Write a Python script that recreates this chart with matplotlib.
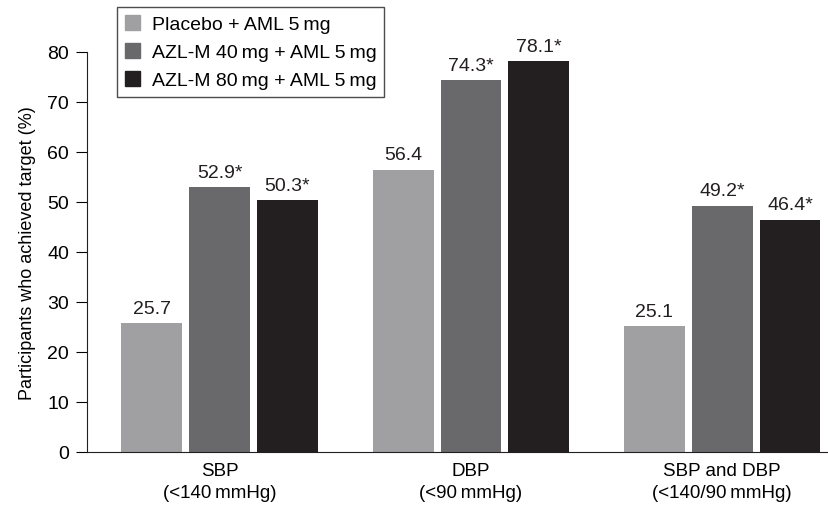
import numpy as np
import matplotlib.pyplot as plt
from matplotlib.patches import Patch

plt.rcParams['font.family'] = ['Liberation Sans', 'DejaVu Sans']

groups = ["SBP\n(<140\u2009mmHg)", "DBP\n(<90\u2009mmHg)", "SBP and DBP\n(<140/90\u2009mmHg)"]
series = ["Placebo + AML 5\u2009mg", "AZL-M 40\u2009mg + AML 5\u2009mg", "AZL-M 80\u2009mg + AML 5\u2009mg"]
placebo = [25.7, 56.4, 25.1]
azl40 = [52.9, 74.3, 49.2]
azl80 = [50.3, 78.1, 46.4]
stars = [False, True, True]
colors = ["#a0a0a2", "#69696b", "#231f20"]

fig = plt.figure(figsize=(8.29, 5.10), dpi=100)
ax = fig.add_axes([0.105, 0.112, 0.895, 0.785])

x = np.arange(len(groups))
width = 0.242
step = 0.27
for i, (vals, c) in enumerate(zip([placebo, azl40, azl80], colors)):
    pos = x + (i - 1) * step
    ax.bar(pos, vals, width, color=c)
    for p, v in zip(pos, vals):
        txt = f"{v:.1f}" + ("*" if stars[i] else "")
        ax.text(p, v + 1.3, txt, ha="center", va="bottom", fontsize=14,
                color="#231f20", clip_on=False)

ax.set_xlim(-0.528, 2.425)
ax.set_ylim(0, 80)
ax.set_yticks(range(0, 81, 10))
ax.set_xticks(x)
ax.set_xticklabels(groups, fontsize=13.5, linespacing=1.45)
ax.tick_params(axis="x", length=0, pad=7)
ax.tick_params(axis="y", length=8, labelsize=14, pad=5)
ax.set_ylabel("Participants who achieved target (%)", fontsize=13, labelpad=8)
ax.spines["top"].set_visible(False)
ax.spines["right"].set_visible(False)
for s in ("left", "bottom"):
    ax.spines[s].set_color("#231f20")

handles = [Patch(color=c) for c in colors]
leg = fig.legend(handles, series, loc="upper left", bbox_to_anchor=(0.141, 0.984),
                 borderaxespad=0, fontsize=14, frameon=True, fancybox=False,
                 edgecolor="#231f20", handlelength=0.8, handleheight=0.8,
                 handletextpad=0.6, labelspacing=0.5, borderpad=0.4)
leg.get_frame().set_linewidth(1.0)

fig.savefig("out.png", dpi=100)
